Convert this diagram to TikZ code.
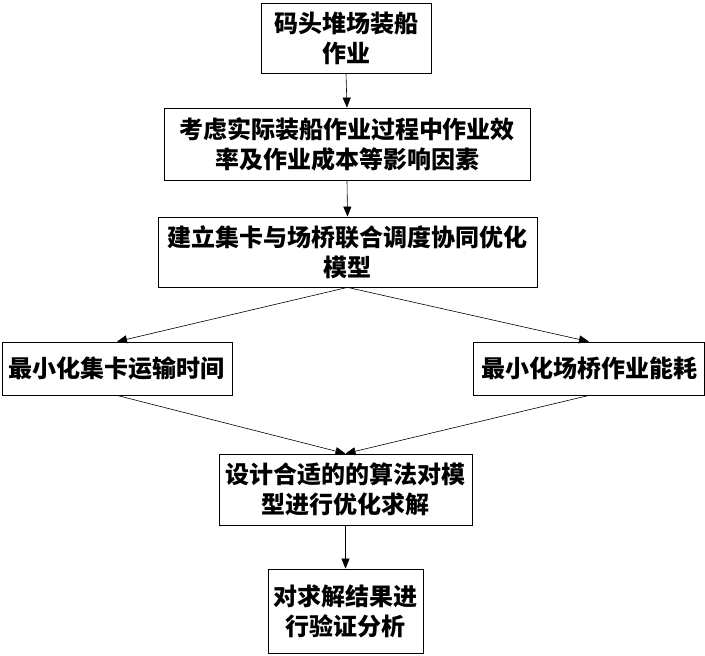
\documentclass[tikz,border=0pt]{standalone}
\usepackage{fontspec}
\newfontfamily\cjk{Noto Sans CJK SC}
\usetikzlibrary{arrows.meta}
\tikzset{
  box/.style={draw=black, line width=0.8pt, align=center, inner sep=0pt,
    font=\cjk\bfseries\fontsize{24}{30}\selectfont},
  flow/.style={draw=black, line width=0.6pt, -{Triangle[length=10pt,width=8pt]}}
}
\begin{document}
\begin{tikzpicture}[x=1pt, y=1pt]
            \useasboundingbox (0,0) rectangle (705,-656);
            \node[box, minimum width=170, minimum height=70] (dock) at (346,-38) {码头堆场装船\\作业};
            \node[box, minimum width=366, minimum height=72] (factor) at (347,-144) {考虑实际装船作业过程中作业效\\率及作业成本等影响因素};
            \node[box, minimum width=379, minimum height=70] (model) at (347.5,-252) {建立集卡与场桥联合调度协同优化\\模型};
            \node[box, minimum width=230, minimum height=53] (truck) at (117,-368.5) {最小化集卡运输时间};
            \node[box, minimum width=231, minimum height=53] (crane) at (589,-368.5) {最小化场桥作业能耗};
            \node[box, minimum width=253, minimum height=71] (algo) at (345.5,-489.5) {设计合适的的算法对模\\型进行优化求解};
            \node[box, minimum width=155, minimum height=84] (check) at (345.5,-611) {对求解结果进\\行验证分析};
            \draw[flow] (dock.south) -- (factor.north);
            \draw[flow] (factor.south) -- (model.north);
            \draw[flow] (model.south) -- (truck.north);
            \draw[flow] (model.south) -- (crane.north);
            \draw[flow] (truck.south) -- (algo.north);
            \draw[flow] (crane.south) -- (algo.north);
            \draw[flow] (algo.south) -- (check.north);
        \end{tikzpicture}
\end{document}
